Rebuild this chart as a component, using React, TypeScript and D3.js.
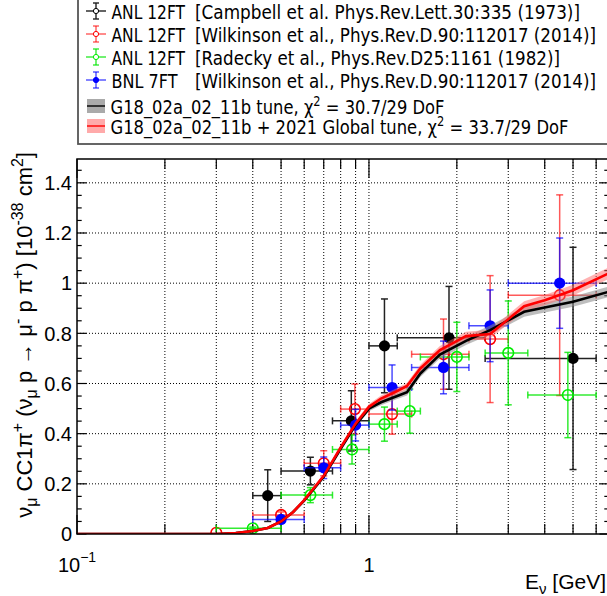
import React from 'react';
import * as d3 from 'd3';

// ---- data ----
const campbellE = [0.45, 0.63, 0.87, 1.13, 1.88, 5.0];
const campbellELo = [0.40, 0.50, 0.75, 1.0, 1.25, 2.5];
const campbellEHi = [0.50, 0.75, 1.0, 1.25, 2.5, 6.0];
const campbellY = [0.153, 0.251, 0.451, 0.75, 0.782, 0.70];
const campbellYErr = [0.103, 0.055, 0.12, 0.187, 0.205, 0.443];

const wilkAnlE = [0.30, 0.50, 0.70, 0.895, 1.2, 1.8, 2.6, 4.5];
const wilkAnlELo = [0.30, 0.40, 0.60, 0.80, 1.0, 1.4, 2.2, 3.0];
const wilkAnlEHi = [0.30, 0.60, 0.80, 1.0, 1.4, 2.2, 3.0, 6.0];
const wilkAnlY = [0.005, 0.076, 0.282, 0.498, 0.478, 0.717, 0.777, 0.952];
const wilkAnlYErr = [0.0, 0.012, 0.05, 0.10, 0.08, 0.14, 0.253, 0.40];

const radeckyE = [0.40, 0.63, 0.875, 1.13, 1.38, 2.0, 3.0, 4.8];
const radeckyELo = [0.30, 0.50, 0.75, 1.0, 1.25, 1.5, 2.5, 3.5];
const radeckyEHi = [0.50, 0.75, 1.0, 1.25, 1.5, 2.2, 3.5, 6.0];
const radeckyY = [0.023, 0.155, 0.337, 0.438, 0.49, 0.706, 0.722, 0.554];
const radeckyYErr = [0.005, 0.03, 0.058, 0.068, 0.088, 0.138, 0.207, 0.17];

const bnlE = [0.50, 0.70, 0.90, 1.2, 1.8, 2.6, 4.5];
const bnlELo = [0.40, 0.60, 0.80, 1.0, 1.4, 2.2, 3.0];
const bnlEHi = [0.60, 0.80, 1.0, 1.4, 2.2, 3.0, 6.0];
const bnlY = [0.058, 0.264, 0.434, 0.584, 0.664, 0.83, 1.0];
const bnlYErr = [0.01, 0.043, 0.063, 0.09, 0.105, 0.143, 0.18];

const curveE = [0.1, 0.3, 0.35, 0.4, 0.45, 0.5, 0.55, 0.6, 0.7, 0.8, 0.9, 1.0, 1.1, 1.25, 1.35, 1.5, 1.75, 2.15, 2.6, 3.4, 4.0, 5.0, 6.64];
const tuneG18 = [0, 0, 0.004, 0.012, 0.024, 0.05, 0.088, 0.133, 0.228, 0.34, 0.435, 0.50, 0.525, 0.55, 0.565, 0.64, 0.715, 0.77, 0.813, 0.886, 0.903, 0.926, 0.966];
const tune2021 = [0, 0, 0.004, 0.012, 0.024, 0.05, 0.088, 0.135, 0.232, 0.345, 0.44, 0.507, 0.54, 0.57, 0.59, 0.66, 0.733, 0.789, 0.797, 0.908, 0.932, 0.972, 1.04];
const bandFrac = 0.022;

const xMajorTicks = [0.1, 1];
const xMinorTicks = [0.2, 0.3, 0.4, 0.5, 0.6, 0.7, 0.8, 0.9, 2, 3, 4, 5, 6];
const yMajorTicks = [0, 0.2, 0.4, 0.6, 0.8, 1.0, 1.2, 1.4];
const yTickLabels = ['0', '0.2', '0.4', '0.6', '0.8', '1', '1.2', '1.4'];

const legendLabels = [
  ['ANL 12FT', '[Campbell et al. Phys.Rev.Lett.30:335 (1973)]'],
  ['ANL 12FT', '[Wilkinson et al., Phys.Rev.D.90:112017 (2014)]'],
  ['ANL 12FT', '[Radecky et al., Phys.Rev.D25:1161 (1982)]'],
  ['BNL 7FT', '[Wilkinson et al., Phys.Rev.D.90:112017 (2014)]'],
];
const tuneLabels = [
  ['G18_02a_02_11b tune, χ', '2', ' = 30.7/29 DoF'],
  ['G18_02a_02_11b + 2021 Global tune, χ', '2', ' = 33.7/29 DoF'],
];

// ---- layout ----
const W = 607, H = 596;
const L = 77, R = 609, T = 159, B = 534;
const xMax = 6.64, yMax = 1.495;

const x = d3.scaleLog().domain([0.1, xMax]).range([L, R]);
const y = d3.scaleLinear().domain([0, yMax]).range([B, T]);

type Series = { E: number[]; lo: number[]; hi: number[]; Y: number[]; err: number[]; color: string; barColor: string; filled: boolean };

const series: Series[] = [
  { E: campbellE, lo: campbellELo, hi: campbellEHi, Y: campbellY, err: campbellYErr, color: '#000000', barColor: '#222222', filled: true },
  { E: wilkAnlE, lo: wilkAnlELo, hi: wilkAnlEHi, Y: wilkAnlY, err: wilkAnlYErr, color: '#ff0000', barColor: 'rgba(255,0,0,0.65)', filled: false },
  { E: radeckyE, lo: radeckyELo, hi: radeckyEHi, Y: radeckyY, err: radeckyYErr, color: '#00ee00', barColor: 'rgba(0,230,0,0.8)', filled: false },
  { E: bnlE, lo: bnlELo, hi: bnlEHi, Y: bnlY, err: bnlYErr, color: '#0000ff', barColor: 'rgba(0,0,255,0.7)', filled: true },
];

const FONT = 'Liberation Sans, Arial, sans-serif';
const LFONT = 'DejaVu Sans, sans-serif';

function DataSeries({ s }: { s: Series }) {
  const cap = 3.5;
  return (
    <g>
      {s.E.map((e, i) => {
        const cx = x(e), cy = y(s.Y[i]);
        const x0 = x(s.lo[i]), x1 = x(s.hi[i]);
        const y0 = y(s.Y[i] - s.err[i]), y1 = y(s.Y[i] + s.err[i]);
        return (
          <g key={i} stroke={s.barColor} strokeWidth={1.5} fill="none">
            {x1 - x0 > 1 && <line x1={x0} x2={x1} y1={cy} y2={cy} />}
            {x1 - x0 > 1 && <line x1={x0} x2={x0} y1={cy - cap} y2={cy + cap} />}
            {x1 - x0 > 1 && <line x1={x1} x2={x1} y1={cy - cap} y2={cy + cap} />}
            {y0 - y1 > 1 && <line x1={cx} x2={cx} y1={y1} y2={y0} />}
            {y0 - y1 > 1 && <line x1={cx - cap} x2={cx + cap} y1={y1} y2={y1} />}
            {y0 - y1 > 1 && <line x1={cx - cap} x2={cx + cap} y1={y0} y2={y0} />}
          </g>
        );
      })}
      {s.E.map((e, i) => (
        <circle key={'m' + i} cx={x(e)} cy={y(s.Y[i])} r={s.filled ? 5.6 : 5.3}
          fill={s.filled ? s.color : 'none'} stroke={s.color} strokeWidth={s.filled ? 0 : 1.6} />
      ))}
    </g>
  );
}

export default function App() {
  const pts = curveE.map((e, i) => ({ e, g: tuneG18[i], r: tune2021[i] }));
  const lineG = d3.line<any>().x(d => x(d.e)).y(d => y(d.g))(pts) || '';
  const lineR = d3.line<any>().x(d => x(d.e)).y(d => y(d.r))(pts) || '';
  const bandG = d3.area<any>().x(d => x(d.e)).y0(d => y(d.g * (1 - bandFrac))).y1(d => y(d.g * (1 + bandFrac)))(pts) || '';
  const bandR = d3.area<any>().x(d => x(d.e)).y0(d => y(d.r * (1 - bandFrac))).y1(d => y(d.r * (1 + bandFrac)))(pts) || '';

  const yMinor = d3.range(0, yMax, 0.05).filter(v => Math.abs(v / 0.2 - Math.round(v / 0.2)) > 1e-6);

  const rowY = [11, 34, 57, 80];
  const tuneRowY = [106, 126];

  return (
    <svg width={W} height={H} style={{ position: 'absolute', left: 0, top: 0, background: '#fff' }}>
      <defs>
        <clipPath id="frame"><rect x={L} y={T} width={R - L} height={B - T} /></clipPath>
      </defs>
      <rect x={0} y={0} width={W} height={H} fill="#fff" />

      {/* grid */}
      <g stroke="#000" strokeWidth={1} strokeDasharray="1,2">
        {yMajorTicks.slice(1).map(v => <line key={'gy' + v} x1={L} x2={R} y1={y(v)} y2={y(v)} />)}
        {[...xMinorTicks, 1].map(v => <line key={'gx' + v} x1={x(v)} x2={x(v)} y1={T} y2={B} />)}
      </g>

      {/* ticks */}
      <g stroke="#000" strokeWidth={1.2}>
        {xMinorTicks.map(v => (
          <g key={'tx' + v}>
            <line x1={x(v)} x2={x(v)} y1={B} y2={B - 10} />
            <line x1={x(v)} x2={x(v)} y1={T} y2={T + 10} />
          </g>
        ))}
        {xMajorTicks.map(v => (
          <g key={'TX' + v}>
            <line x1={x(v)} x2={x(v)} y1={B} y2={B - 19} />
            <line x1={x(v)} x2={x(v)} y1={T} y2={T + 19} />
          </g>
        ))}
        {yMajorTicks.map(v => (
          <g key={'ty' + v}>
            <line x1={L} x2={L + 9.5} y1={y(v)} y2={y(v)} />
            <line x1={R} x2={R - 9.5} y1={y(v)} y2={y(v)} />
          </g>
        ))}
        {yMinor.map(v => (
          <g key={'tym' + v}>
            <line x1={L} x2={L + 4.7} y1={y(v)} y2={y(v)} />
            <line x1={R} x2={R - 4.7} y1={y(v)} y2={y(v)} />
          </g>
        ))}
      </g>

      {/* data */}
      <g clipPath="url(#frame)">
        {series.map((s, i) => <DataSeries key={i} s={s} />)}
        <path d={bandG} fill="#888" fillOpacity={0.55} stroke="none" />
        <path d={bandR} fill="#ff6666" fillOpacity={0.5} stroke="none" />
        <path d={lineG} fill="none" stroke="#000" strokeWidth={2.6} />
        <path d={lineR} fill="none" stroke="#ff0000" strokeWidth={2.6} />
      </g>

      {/* frame */}
      <rect x={L} y={T} width={R - L} height={B - T} fill="none" stroke="#000" strokeWidth={1.5} />

      {/* y tick labels */}
      <g fontFamily={FONT} fontSize={20} fill="#000" textAnchor="end">
        {yMajorTicks.map((v, i) => (
          <text key={'yl' + v} x={72} y={y(v)} dy="0.36em">{yTickLabels[i]}</text>
        ))}
      </g>
      {/* x tick labels */}
      <g fontFamily={FONT} fontSize={20} fill="#000">
        <text x={x(0.1)} y={572} textAnchor="middle">10<tspan fontSize={14} dy={-10}>−1</tspan></text>
        <text x={x(1)} y={572} textAnchor="middle">1</text>
      </g>

      {/* axis titles */}
      <text x={606} y={589} textAnchor="end" fontFamily={FONT} fontSize={21}>
        E<tspan fontSize={15} dy={5}>ν</tspan><tspan dy={-5}> [GeV]</tspan>
      </text>
      <text transform="translate(32,152) rotate(-90)" textAnchor="end" fontFamily={FONT} fontSize={22}>
        ν<tspan fontSize={16} dy={5}>μ</tspan>
        <tspan dy={-5}> CC1π</tspan><tspan fontSize={16} dy={-9}>+</tspan>
        <tspan dy={9}> (ν</tspan><tspan fontSize={16} dy={5}>μ</tspan>
        <tspan dy={-5}> p → μ</tspan><tspan fontSize={16} dy={-9}>-</tspan>
        <tspan dy={9}> p π</tspan><tspan fontSize={16} dy={-9}>+</tspan>
        <tspan dy={9}>) [10</tspan><tspan fontSize={16} dy={-9}>-38</tspan>
        <tspan dy={9}> cm</tspan><tspan fontSize={16} dy={-9}>2</tspan>
        <tspan dy={9}>]</tspan>
      </text>

      {/* legend */}
      <rect x={78} y={-5} width={540} height={149} fill="#fff" stroke="#555" strokeWidth={1.8} />
      {series.map((s, i) => {
        const cy = rowY[i], cx = 96;
        return (
          <g key={'lg' + i}>
            <g stroke={s.barColor} strokeWidth={1.4}>
              <line x1={86} x2={106} y1={cy} y2={cy} />
              <line x1={cx} x2={cx} y1={cy - 8} y2={cy + 8} />
              <line x1={cx - 3} x2={cx + 3} y1={cy - 8} y2={cy - 8} />
              <line x1={cx - 3} x2={cx + 3} y1={cy + 8} y2={cy + 8} />
            </g>
            <circle cx={cx} cy={cy} r={2.6} fill={s.filled && i !== 0 ? s.color : '#fff'} stroke={s.color} strokeWidth={1} />
            <text x={111.5} y={cy + 7.5} fontFamily={LFONT} fontSize={20} textLength={i === 3 ? 66 : 73.5} lengthAdjust="spacingAndGlyphs">{legendLabels[i][0]}</text>
            <text x={195} y={cy + 7.5} fontFamily={LFONT} fontSize={20} textLength={[385, 401, 365, 401][i]} lengthAdjust="spacingAndGlyphs">{legendLabels[i][1]}</text>
          </g>
        );
      })}
      {tuneLabels.map((t, i) => {
        const cy = tuneRowY[i];
        return (
          <g key={'tl' + i}>
            <rect x={87} y={cy - 7} width={18} height={14} fill={i === 0 ? '#aaaaaa' : '#ffaaaa'} />
            <line x1={87} x2={105} y1={cy} y2={cy} stroke={i === 0 ? '#000' : '#ff0000'} strokeWidth={1.4} />
            <text x={110.5} y={cy + 7.5} fontFamily={LFONT} fontSize={20} textLength={i === 0 ? 334 : 458} lengthAdjust="spacingAndGlyphs">
              {t[0]}<tspan fontSize={14} dy={-8}>{t[1]}</tspan><tspan dy={8}>{t[2]}</tspan>
            </text>
          </g>
        );
      })}
    </svg>
  );
}
